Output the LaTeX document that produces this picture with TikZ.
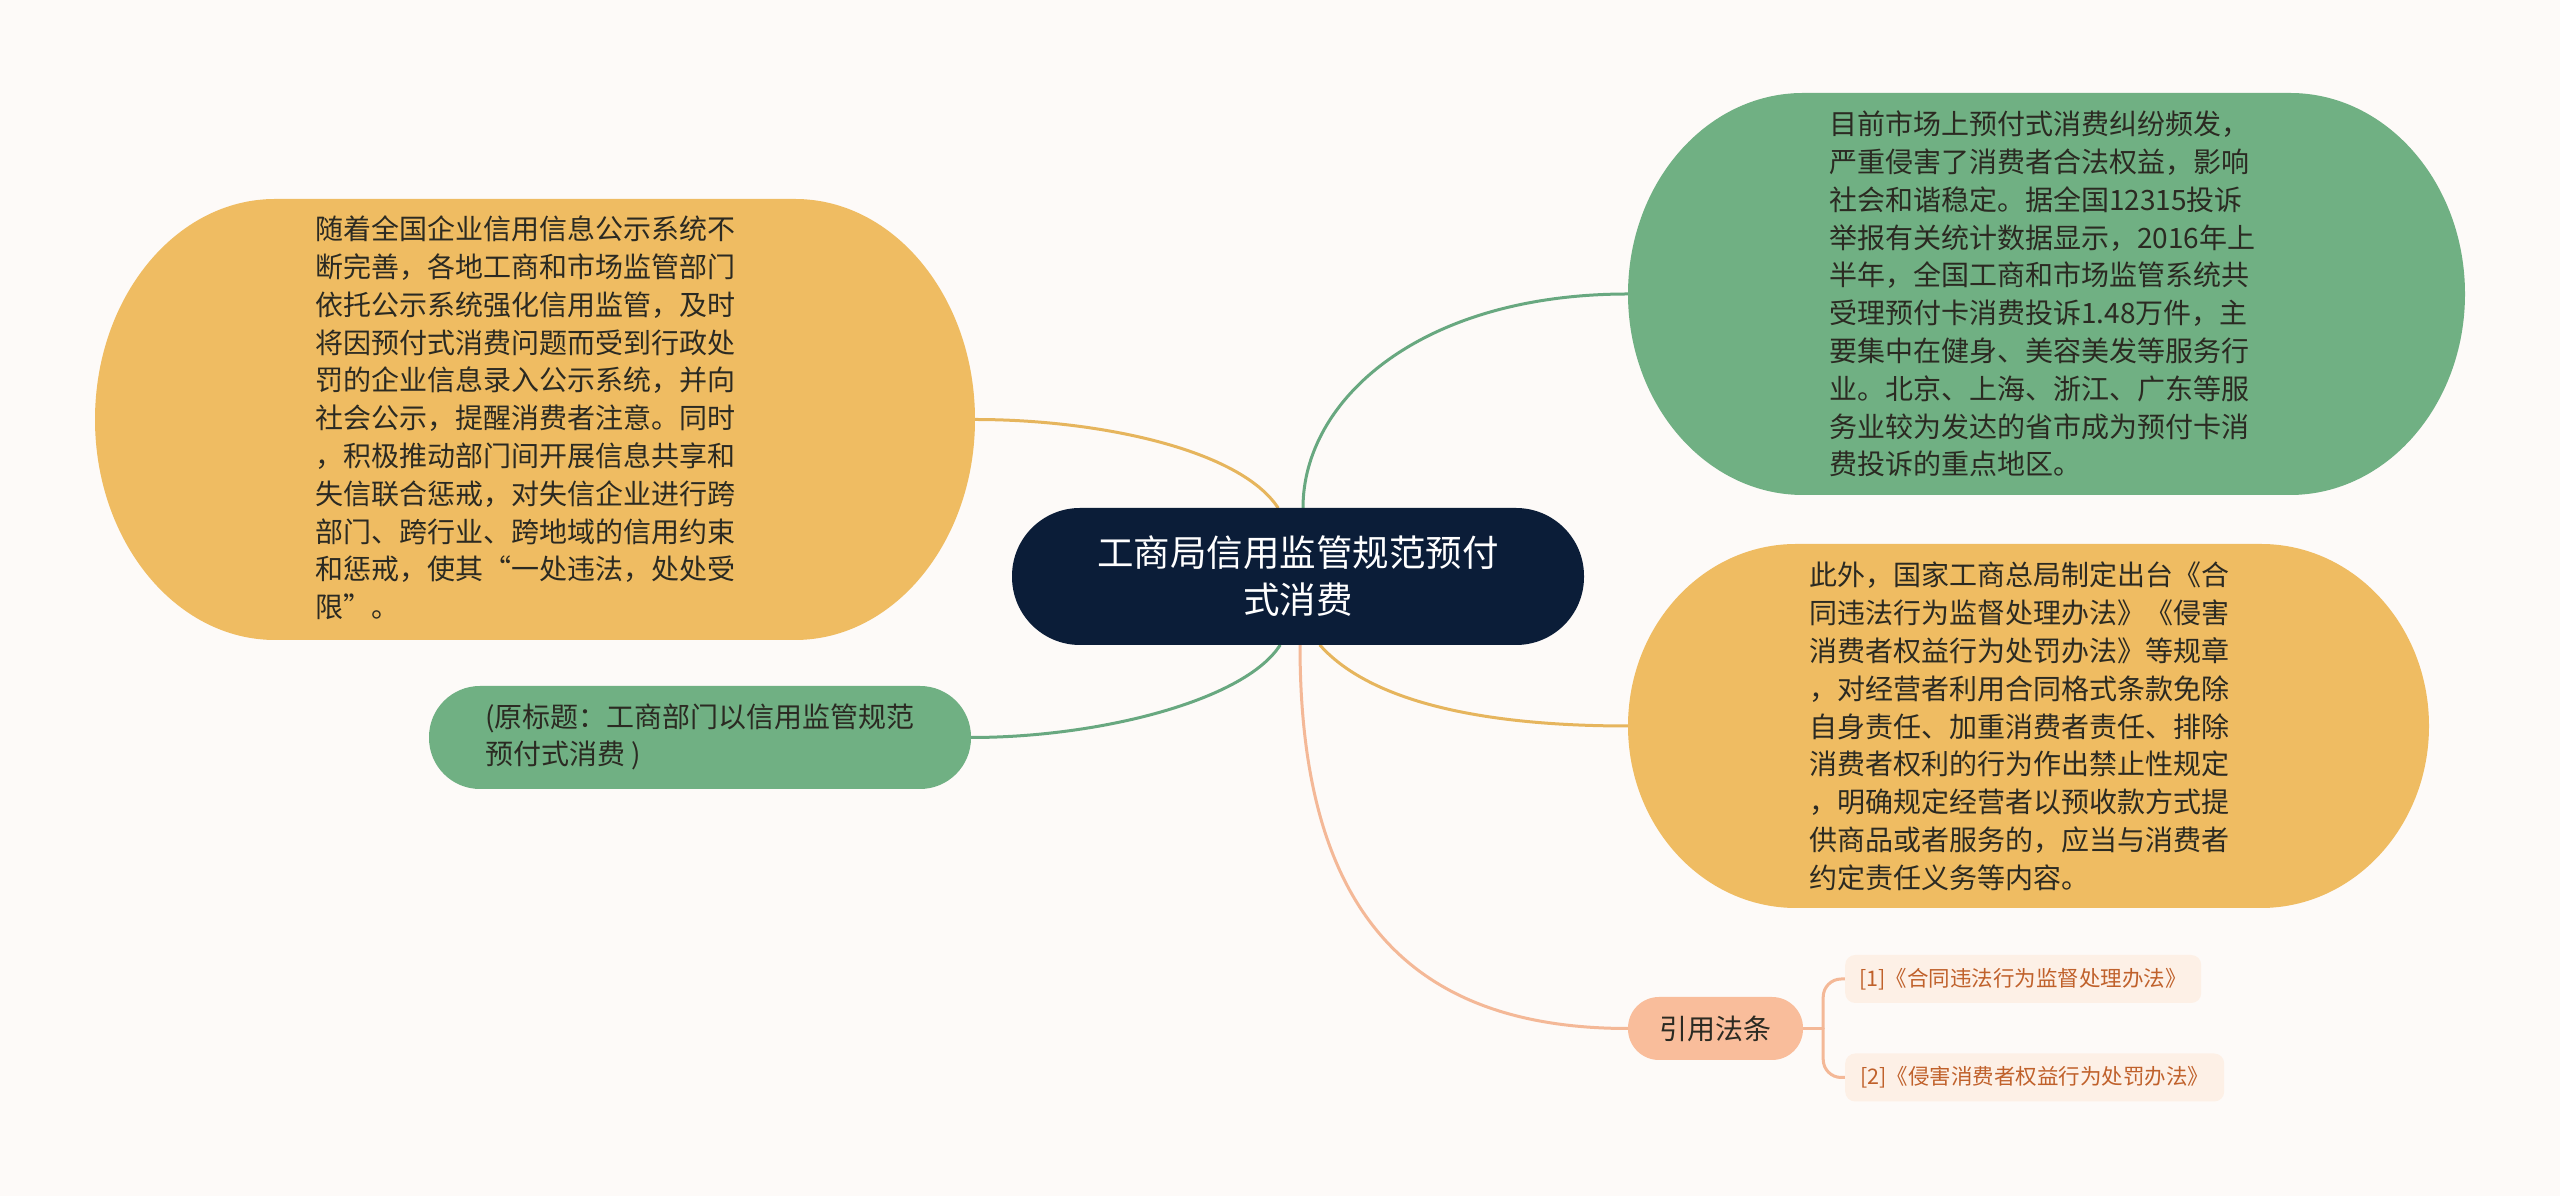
\documentclass[tikz,border=0pt]{standalone}
\usepackage{fontspec}
\setmainfont{Noto Sans CJK SC}
\usetikzlibrary{positioning}
\definecolor{bgc}{HTML}{FDFAF8}
\definecolor{orgfill}{HTML}{EFBC62}
\definecolor{grnfill}{HTML}{70B083}
\definecolor{darkfill}{HTML}{0B1D38}
\definecolor{salfill}{HTML}{F9BD9B}
\definecolor{reffill}{HTML}{FDF0E6}
\definecolor{reftext}{HTML}{C0612B}
\definecolor{orgline}{HTML}{E6B55D}
\definecolor{grnline}{HTML}{68A880}
\definecolor{salline}{HTML}{F4B897}
\definecolor{bodytext}{HTML}{2B2A22}
\pgfdeclarelayer{back}
\pgfsetlayers{back,main}
\newcommand\eblob[7]{\fill[#7] ({#1+#5},#4) -- ({#3-#5},#4) arc[start angle=90,end angle=0,x radius=#5pt,y radius=#6pt] -- (#3,{#2+#6}) arc[start angle=0,end angle=-90,x radius=#5pt,y radius=#6pt] -- ({#1+#5},#2) arc[start angle=270,end angle=180,x radius=#5pt,y radius=#6pt] -- (#1,{#4-#6}) arc[start angle=180,end angle=90,x radius=#5pt,y radius=#6pt] -- cycle;}
\tikzset{
  x=1pt,y=1pt,
  ghost/.style={inner sep=0pt,outer sep=0pt,draw=none},
  bodytxt/.style={inner sep=0pt,align=left,anchor=west,text=bodytext,font=\fontsize{28pt}{37.8pt}\selectfont},
  conn/.style={line width=3pt,line cap=round},
  reflabel/.style={fill=reffill,rounded corners=10pt,inner xsep=13pt,inner ysep=0pt,anchor=west,text=reftext,font=\fontsize{21.5pt}{26pt}\selectfont,minimum height=48pt,align=left}
}
\begin{document}
\begin{tikzpicture}
\begin{pgfonlayer}{back}
\fill[bgc] (0,0) rectangle (2560,1196);
\end{pgfonlayer}
\useasboundingbox (0,0) rectangle (2560,1196);

% shape anchors (invisible named nodes)
\node[ghost,minimum width=880pt,minimum height=441pt] (L1) at (535,776.5) {};
\node[ghost,minimum width=837pt,minimum height=402pt] (R1) at (2046.5,902) {};
\node[ghost,minimum width=801pt,minimum height=364pt] (R2) at (2028.5,470) {};

% blob shapes
\eblob{95}{556}{975}{997}{180}{220.5}{orgfill}
\eblob{1628}{701}{2465}{1103}{175}{201}{grnfill}
\eblob{1628}{288}{2429}{652}{168}{182}{orgfill}

% pills
\node[fill=grnfill,rounded corners=51pt,minimum width=542pt,minimum height=103pt,inner sep=0pt] (L2) at (700,458.5) {};
\node[fill=darkfill,rounded corners=68pt,minimum width=572pt,minimum height=137pt,inner sep=0pt,text=white,align=center,font=\fontsize{36.5pt}{47pt}\selectfont] (C) at (1298,619.5) {工商局信用监管规范预付\\式消费};
\node[fill=salfill,rounded corners=31pt,minimum width=175pt,minimum height=63pt,inner sep=0pt,text=bodytext,font=\fontsize{28pt}{34pt}\selectfont] (Cite) at (1715.5,167.5) {引用法条};
\node[reflabel,minimum width=356pt] (ref1) at (1845,217) {[1]《合同违法行为监督处理办法》};
\node[reflabel,minimum width=379pt] (ref2) at (1845,118.5) {[2]《侵害消费者权益行为处罚办法》};

% texts
\node[bodytxt] (L1t) at (315,778) {随着全国企业信用信息公示系统不\\断完善，各地工商和市场监管部门\\依托公示系统强化信用监管，及时\\将因预付式消费问题而受到行政处\\罚的企业信息录入公示系统，并向\\社会公示，提醒消费者注意。同时\\，积极推动部门间开展信息共享和\\失信联合惩戒，对失信企业进行跨\\部门、跨行业、跨地域的信用约束\\和惩戒，使其“一处违法，处处受\\限”。};
\node[bodytxt] (R1t) at (1829,902) {目前市场上预付式消费纠纷频发，\\严重侵害了消费者合法权益，影响\\社会和谐稳定。据全国12315投诉\\举报有关统计数据显示，2016年上\\半年，全国工商和市场监管系统共\\受理预付卡消费投诉1.48万件，主\\要集中在健身、美容美发等服务行\\业。北京、上海、浙江、广东等服\\务业较为发达的省市成为预付卡消\\费投诉的重点地区。};
\node[bodytxt] (R2t) at (1809,469.5) {此外，国家工商总局制定出台《合\\同违法行为监督处理办法》《侵害\\消费者权益行为处罚办法》等规章\\，对经营者利用合同格式条款免除\\自身责任、加重消费者责任、排除\\消费者权利的行为作出禁止性规定\\，明确规定经营者以预收款方式提\\供商品或者服务的，应当与消费者\\约定责任义务等内容。};
\node[bodytxt] (L2t) at (485,459) {(原标题：工商部门以信用监管规范\\预付式消费 )};

% connectors
\begin{pgfonlayer}{back}
\draw[conn,grnline] ([xshift=5pt]C.north) .. controls +(0,108) and +(-208,0) .. (R1.west);
\draw[conn,orgline] (L1.east) .. controls +(125,0) and +(-38,58) .. ([xshift=-20pt]C.north);
\draw[conn,grnline] (L2.east) .. controls +(129,0) and +(-35,-55) .. ([xshift=-18pt]C.south);
\draw[conn,orgline] ([xshift=22pt]C.south) .. controls +(40,-45) and +(-178,0) .. (R2.west);
\draw[conn,salline] ([xshift=2pt]C.south) .. controls +(0,-255) and +(-228,0) .. (Cite.west);
\coordinate (br) at ([xshift=20pt]Cite.east);
\draw[conn,salline] (Cite.east) -- (br);
\draw[conn,salline,rounded corners=18pt] (br) |- (ref1.west);
\draw[conn,salline,rounded corners=18pt] (br) |- (ref2.west);
\end{pgfonlayer}
\end{tikzpicture}
\end{document}
